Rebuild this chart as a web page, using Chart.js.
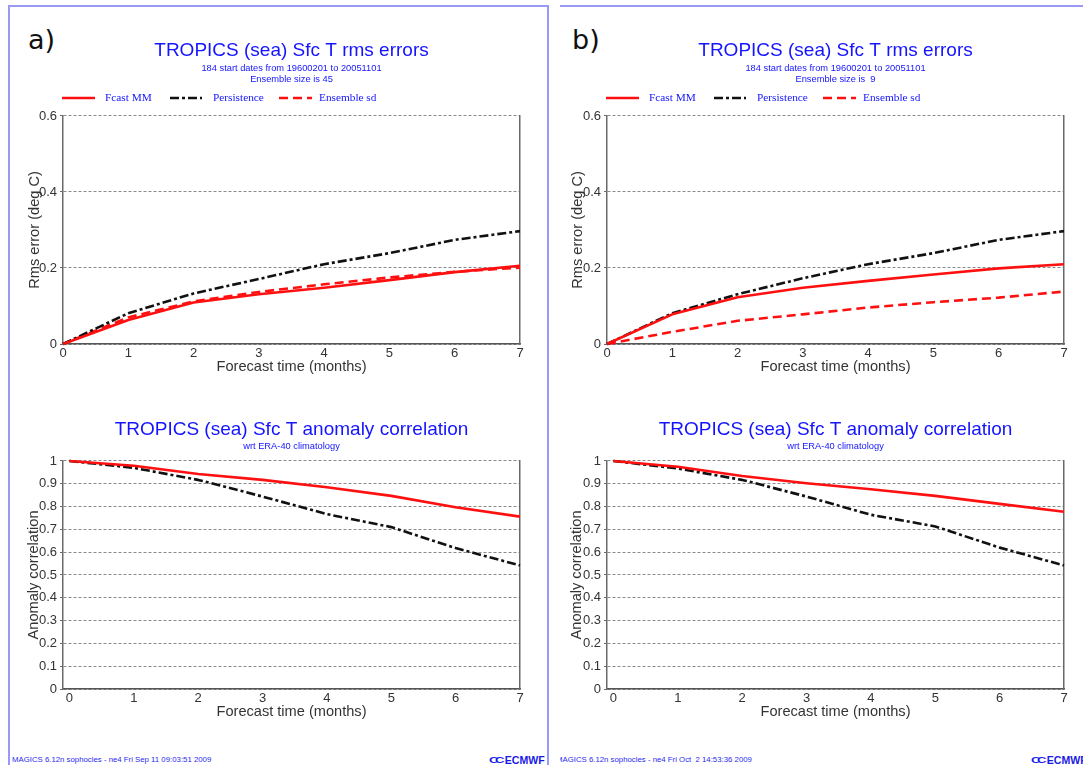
<!DOCTYPE html>
<html>
<head>
<meta charset="utf-8">
<script src="https://cdn.jsdelivr.net/npm/chart.js@4.4.1/dist/chart.umd.min.js"></script>
<style>
  html, body { margin: 0; padding: 0; background: #fff; }
  body { width: 1083px; height: 765px; position: relative; overflow: hidden; }
  .frame { position: absolute; border-color: #9a9af6; border-style: solid; border-width: 0; }
  canvas { position: absolute; }
  .tag { position: absolute; font-family: 'DejaVu Sans', sans-serif; font-size: 27px; color: #111; line-height: 1; }
  .foot { position: absolute; top: 754px; height: 12px; overflow: hidden; white-space: pre;
          font-family: 'Liberation Sans', Arial, sans-serif; font-size: 7.8px; color: #2a2af0; line-height: 12px; }
  .logo { position: absolute; top: 752px; height: 15px; overflow: hidden; white-space: nowrap;
          font-family: 'Liberation Sans', Arial, sans-serif; font-weight: bold; font-size: 10.6px;
          color: #1a1ae6; line-height: 15px; }
  .logo .cc { display: inline-block; letter-spacing: -3.5px; margin-right: 4px; font-size: 13px; transform: scaleY(0.75); }
</style>
</head>
<body>
<div class="frame" style="left:8px; top:5px; width:537px; height:800px; border-width:2px 2px 0 2px;"></div>
<div class="frame" style="left:560px; top:5px; width:540px; height:0; border-width:2px 0 0 0;"></div>

<div class="tag" style="left:28px; top:26px;">a)</div>
<div class="tag" style="left:572px; top:26px;">b)</div>

<canvas id="rmsA" width="529" height="350" style="left:10px; top:30px;"></canvas>
<canvas id="accA" width="529" height="325" style="left:10px; top:400px;"></canvas>
<canvas id="rmsB" width="529" height="350" style="left:554px; top:30px;"></canvas>
<canvas id="accB" width="529" height="325" style="left:554px; top:400px;"></canvas>

<div class="foot" style="left:12px; width:300px;">MAGICS 6.12n sophocles - ne4 Fri Sep 11 09:03:51 2009</div>
<div class="foot" style="left:560px; width:300px;"><span style="position:relative; left:-4px;">MAGICS 6.12n sophocles - ne4 Fri Oct  2 14:53:36 2009</span></div>
<div class="logo" style="left:489px; width:58px;"><span class="cc">CC</span>ECMWF</div>
<div class="logo" style="left:1031px; width:58px;"><span class="cc">CC</span>ECMWF</div>

<script>
// Forecast lead time (months) and axis tick values
const months = [0, 1, 2, 3, 4, 5, 6, 7];
const monthTicks = [0, 1, 2, 3, 4, 5, 6, 7];
const rmsTicks = [0, 0.2, 0.4, 0.6];
const accTicks = [0, 0.1, 0.2, 0.3, 0.4, 0.5, 0.6, 0.7, 0.8, 0.9, 1];

// Series labels
const seriesNames = ['Fcast MM', 'Persistence', 'Ensemble sd'];

// Rms errors (deg C), ensemble size 45
const rmsFcastA   = [0, 0.063, 0.109, 0.131, 0.148, 0.168, 0.189, 0.206];
const rmsPersistA = [0, 0.081, 0.133, 0.171, 0.210, 0.239, 0.274, 0.297];
const rmsSpreadA  = [0, 0.070, 0.112, 0.137, 0.157, 0.175, 0.190, 0.201];

// Rms errors (deg C), ensemble size 9
const rmsFcastB   = [0, 0.078, 0.123, 0.148, 0.166, 0.183, 0.199, 0.210];
const rmsPersistB = [0, 0.081, 0.131, 0.173, 0.210, 0.239, 0.274, 0.297];
const rmsSpreadB  = [0, 0.032, 0.061, 0.078, 0.096, 0.110, 0.122, 0.138];

// Anomaly correlation wrt ERA-40 climatology
const accFcastA   = [1, 0.979, 0.943, 0.917, 0.885, 0.847, 0.797, 0.756];
const accPersistA = [1, 0.970, 0.917, 0.844, 0.767, 0.710, 0.618, 0.542];
const accFcastB   = [1, 0.975, 0.934, 0.902, 0.876, 0.847, 0.812, 0.777];
const accPersistB = [1, 0.967, 0.917, 0.844, 0.764, 0.713, 0.620, 0.542];

Chart.defaults.font.family = "'Liberation Sans', Arial, sans-serif";
Chart.defaults.color = '#333';

const BLUE = '#1414ff';
const AXIS = '#6a6a6a';
const GRID = '#8a8a8a';

const styles = [
  { borderColor: '#ff1010', borderWidth: 2.6, borderDash: [] },
  { borderColor: '#111111', borderWidth: 2.6, borderDash: [9, 3, 3, 3] },
  { borderColor: '#ff1010', borderWidth: 2.6, borderDash: [9, 5] }
];

// Line-sample key drawn above the plot frame, using each dataset's own stroke style
const keyPlugin = {
  id: 'key',
  afterDraw(chart, args, opts) {
    if (!opts || !opts.items) return;
    const { ctx, chartArea } = chart;
    const y = chartArea.top + opts.dy;
    chart.data.datasets.forEach((ds, i) => {
      const it = opts.items[i];
      if (!it) return;
      ctx.save();
      ctx.strokeStyle = ds.borderColor;
      ctx.lineWidth = ds.borderWidth;
      ctx.setLineDash(ds.borderDash || []);
      ctx.beginPath();
      ctx.moveTo(chartArea.left + it.from, y);
      ctx.lineTo(chartArea.left + it.to, y);
      ctx.stroke();
      ctx.setLineDash([]);
      ctx.fillStyle = BLUE;
      ctx.font = "11.3px 'Liberation Serif', 'Times New Roman', serif";
      ctx.textBaseline = 'middle';
      ctx.textAlign = 'left';
      ctx.fillText(ds.label, chartArea.left + it.text, y + 0.5);
      ctx.restore();
    });
  }
};

function series(values) {
  return months.map((m, i) => ({ x: m, y: values[i] }));
}

function fmt(v) {
  return String(Math.round(v * 10) / 10);
}

function makeChart(id, o) {
  const datasets = o.series.map((vals, i) => Object.assign({
    label: seriesNames[i],
    data: series(vals),
    pointRadius: 0,
    tension: 0,
    fill: false,
    clip: false,
    borderJoinStyle: 'round'
  }, styles[i]));

  return new Chart(document.getElementById(id), {
    type: 'line',
    data: { datasets },
    plugins: [keyPlugin],
    options: {
      responsive: false,
      animation: false,
      devicePixelRatio: 1,
      events: [],
      layout: { padding: { left: 0, right: 19, top: 0, bottom: 4 } },
      plugins: {
        legend: { display: false },
        tooltip: { enabled: false },
        title: {
          display: true,
          text: o.title,
          color: BLUE,
          fullSize: false,
          font: { size: 19, weight: 'normal', lineHeight: 1.2 },
          padding: { top: o.titleTop, bottom: 0 }
        },
        subtitle: {
          display: true,
          text: o.subtitle,
          color: BLUE,
          fullSize: false,
          font: { size: 9.3, lineHeight: 1.18 },
          padding: { top: o.subTop, bottom: o.subBottom }
        },
        key: o.key ? { dy: -18, items: o.key } : {}
      },
      scales: {
        x: {
          type: 'linear',
          min: o.xMin,
          max: 7,
          afterFit: s => { s.height = 32; },
          afterBuildTicks: s => { s.ticks = monthTicks.map(v => ({ value: v })); },
          grid: { display: false, drawTicks: false, tickLength: 0 },
          border: { display: true, color: '#555', width: 1.5 },
          ticks: { padding: 2, font: { size: 13 }, color: '#333', maxRotation: 0, autoSkip: false, callback: v => fmt(v) },
          title: {
            display: true,
            text: 'Forecast time (months)',
            color: '#333',
            font: { size: 14.6, lineHeight: 1.2 },
            padding: { top: 0, bottom: 0 }
          }
        },
        y: {
          type: 'linear',
          min: 0,
          max: o.yMax,
          afterFit: s => { s.width = 53; },
          afterBuildTicks: s => { s.ticks = o.yTicks.map(v => ({ value: v })); },
          grid: { color: GRID, lineWidth: 1, tickLength: 3, tickColor: AXIS, tickBorderDash: [] },
          border: { display: true, color: AXIS, width: 1.5, dash: [3, 2] },
          ticks: { padding: 3, font: { size: 13 }, color: '#333', autoSkip: false, callback: v => fmt(v) },
          title: {
            display: true,
            text: o.yTitle,
            color: '#333',
            font: { size: 14.6, lineHeight: 1.2 },
            padding: { top: o.yTitlePad, bottom: 0 }
          }
        },
        frameRight: {
          type: 'linear',
          position: 'right',
          min: 0,
          max: 1,
          afterFit: s => { s.width = 0; },
          grid: { display: false },
          ticks: { display: false },
          border: { display: true, color: AXIS, width: 1.5 }
        }
      }
    }
  });
}

const rmsKey = [
  { from: -1, to: 32, text: 42 },
  { from: 107, to: 139, text: 150 },
  { from: 216, to: 249, text: 256 }
];

makeChart('rmsA', {
  title: 'TROPICS (sea) Sfc T rms errors',
  subtitle: ['184 start dates from 19600201 to 20051101', 'Ensemble size is 45'],
  titleTop: 9, subTop: 1, subBottom: 31.2,
  series: [rmsFcastA, rmsPersistA, rmsSpreadA],
  key: rmsKey,
  xMin: 0, yMax: 0.6, yTicks: rmsTicks,
  yTitle: 'Rms error (deg C)', yTitlePad: 16
});

makeChart('rmsB', {
  title: 'TROPICS (sea) Sfc T rms errors',
  subtitle: ['184 start dates from 19600201 to 20051101', 'Ensemble size is  9'],
  titleTop: 9, subTop: 1, subBottom: 31.2,
  series: [rmsFcastB, rmsPersistB, rmsSpreadB],
  key: rmsKey,
  xMin: 0, yMax: 0.6, yTicks: rmsTicks,
  yTitle: 'Rms error (deg C)', yTitlePad: 15
});

makeChart('accA', {
  title: 'TROPICS (sea) Sfc T anomaly correlation',
  subtitle: 'wrt ERA-40 climatology',
  titleTop: 18, subTop: 0, subBottom: 9.2,
  series: [accFcastA, accPersistA],
  key: null,
  xMin: -0.1, yMax: 1, yTicks: accTicks,
  yTitle: 'Anomaly correlation', yTitlePad: 15
});

makeChart('accB', {
  title: 'TROPICS (sea) Sfc T anomaly correlation',
  subtitle: 'wrt ERA-40 climatology',
  titleTop: 18, subTop: 0, subBottom: 9.2,
  series: [accFcastB, accPersistB],
  key: null,
  xMin: -0.1, yMax: 1, yTicks: accTicks,
  yTitle: 'Anomaly correlation', yTitlePad: 14
});
</script>
</body>
</html>
